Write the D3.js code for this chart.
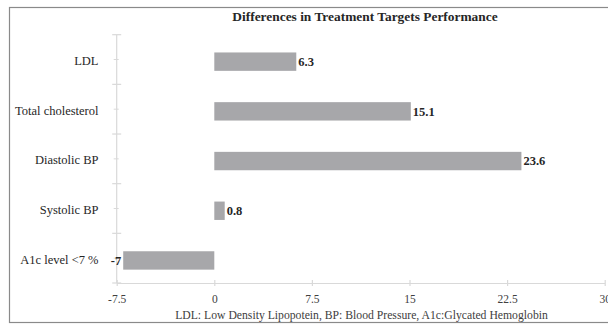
<!DOCTYPE html>
<html><head><meta charset="utf-8">
<script src="https://cdn.jsdelivr.net/npm/d3@7"></script>
<style>body{margin:0;background:#fff}svg{display:block}</style>
</head><body><svg id="c" width="608" height="324"></svg>
<script>
const categories = ["LDL","Total cholesterol","Diastolic BP","Systolic BP","A1c level <7 %"];
const values = [6.3, 15.1, 23.6, 0.8, -7];
const valueLabels = ["6.3","15.1","23.6","0.8","-7"];
const xTicks = [-7.5, 0, 7.5, 15, 22.5, 30];
const xTickLabels = ["-7.5","0","7.5","15","22.5","30"];
const title = "Differences in Treatment Targets Performance";
const footnote = "LDL: Low Density Lipopotein, BP: Blood Pressure, A1c:Glycated Hemoglobin";

const svg = d3.select("#c");
const font = "'Liberation Serif','Times New Roman',serif";
svg.append("rect").attr("x",0).attr("y",0).attr("width",608).attr("height",324).attr("fill","#fff");
svg.append("rect").attr("x",9.5).attr("y",7.5).attr("width",640).attr("height",315)
  .attr("fill","none").attr("stroke","#8a8a8a").attr("stroke-width",1.2);

const x = d3.scaleLinear().domain([-7.5,30]).range([116.7,604.7]);
const y = d3.scaleBand().domain(categories).range([36.8,285.3]).paddingInner(0.63).paddingOuter(0.315);
const yb = d3.scaleBand().domain(categories).range([34.7,283]);

// y axis line with boundary (major) and centre (minor) ticks
const ax = x(-7.5);
const axisCol = "#d9d9d9";
svg.append("line").attr("x1",ax).attr("x2",ax).attr("y1",34.7).attr("y2",283).attr("stroke",axisCol).attr("stroke-width",1.2);
const bounds = categories.map(c=>yb(c)).concat([283]);
svg.selectAll(".yt").data(bounds).join("line")
  .attr("x1",ax-4.5).attr("x2",ax+4.5).attr("y1",d=>d).attr("y2",d=>d).attr("stroke",axisCol).attr("stroke-width",1.2);
svg.selectAll(".ym").data(categories).join("line")
  .attr("x1",ax-3).attr("x2",ax+2).attr("y1",d=>yb(d)+yb.bandwidth()/2).attr("y2",d=>yb(d)+yb.bandwidth()/2)
  .attr("stroke",axisCol).attr("stroke-width",1);

// x axis
const xa = svg.append("g").attr("transform","translate(0,283)")
  .call(d3.axisBottom(x).tickValues(xTicks).tickFormat((d,i)=>xTickLabels[i]).tickSize(3).tickSizeOuter(0));
xa.select(".domain").attr("stroke",axisCol).attr("stroke-width",1.2);
xa.selectAll(".tick line").attr("stroke",axisCol).attr("stroke-width",1.2).attr("y1",-3).attr("y2",3);
xa.selectAll(".tick text").attr("y",12).attr("font-family",font).attr("font-size","11.5px").attr("fill","#404040");

// bars
svg.selectAll(".bar").data(values).join("rect")
  .attr("x",d=>x(Math.min(0,d))).attr("width",d=>Math.abs(x(d)-x(0)))
  .attr("y",(d,i)=>y(categories[i])).attr("height",y.bandwidth())
  .attr("fill","#a7a7aa");

// value labels
svg.selectAll(".vl").data(values).join("text")
  .attr("x",d=>d>=0 ? x(d)+2 : x(d)-2)
  .attr("text-anchor",d=>d>=0?"start":"end")
  .attr("y",(d,i)=>y(categories[i])+y.bandwidth()/2)
  .attr("dy","0.35em")
  .attr("font-family",font).attr("font-weight","bold").attr("font-size","12.5px").attr("fill","#262626")
  .text((d,i)=>valueLabels[i]);

// category labels
svg.selectAll(".cl").data(categories).join("text")
  .attr("x",98.5).attr("text-anchor","end")
  .attr("y",d=>yb(d)+yb.bandwidth()/2+1).attr("dy","0.35em")
  .attr("font-family",font).attr("font-size","12.5px").attr("fill","#262626")
  .text(d=>d);

svg.append("text").attr("x",365).attr("y",21).attr("text-anchor","middle")
  .attr("font-family",font).attr("font-weight","bold").attr("font-size","13.4px").attr("fill","#262626").text(title);
svg.append("text").attr("x",361.5).attr("y",319).attr("text-anchor","middle")
  .attr("font-family",font).attr("font-size","11.7px").attr("fill","#404040").text(footnote);
</script></body></html>
